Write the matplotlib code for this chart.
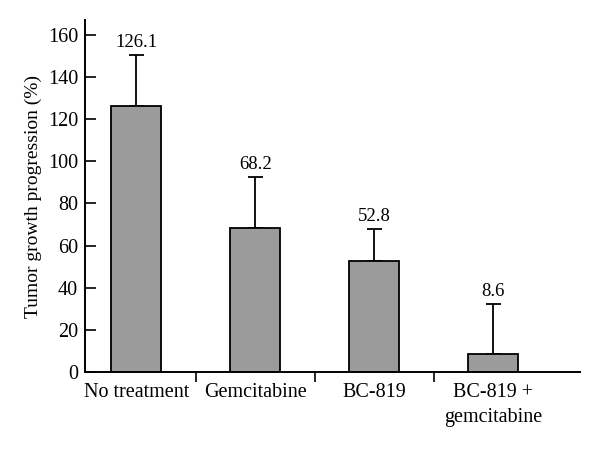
import numpy as np
import matplotlib
matplotlib.use('Agg')
import matplotlib.pyplot as plt

categories = ['No treatment', 'Gemcitabine', 'BC-819', 'BC-819 +\ngemcitabine']
values = [126.1, 68.2, 52.8, 8.6]
errors = [24.3, 24.4, 14.9, 23.8]
yticks = [0, 20, 40, 60, 80, 100, 120, 140, 160]

plt.rcParams['font.family'] = ['Liberation Serif', 'DejaVu Serif']

fig = plt.figure(figsize=(6, 4.5), dpi=100)
ax = fig.add_axes([85 / 600, 78 / 450, 495 / 600, 352 / 450])

x = np.arange(len(categories))
ax.bar(x, values, width=0.42, color='#9b9b9b', edgecolor='black', linewidth=1.3, zorder=2)
ax.errorbar(x, values, yerr=[np.zeros(len(values)), errors], fmt='none', ecolor='black',
            elinewidth=1.3, capsize=5.4, capthick=1.3, zorder=1)

# Value labels above the error caps
for xi, v, e in zip(x, values, errors):
    ax.annotate(str(v), (xi, v + e), xytext=(0, 3), textcoords='offset points',
                ha='center', va='bottom', fontsize=13.5)

ax.set_xlim(-0.43, 3.73)
ax.set_ylim(0, 167)
ax.set_xticks(x)
ax.set_xticklabels(categories, fontsize=14.5, linespacing=1.4)
ax.set_xticks([0.5, 1.5, 2.5], minor=True)
ax.tick_params(axis='x', which='major', length=0, pad=8)
ax.tick_params(axis='x', which='minor', direction='out', length=7.5, width=1.2)
ax.set_yticks(yticks)
ax.tick_params(axis='y', direction='in', length=8, width=1.2, labelsize=14.5, pad=5)
ax.set_ylabel('Tumor growth progression (%)', fontsize=14, labelpad=4)

for side in ['top', 'right']:
    ax.spines[side].set_visible(False)
for side in ['left', 'bottom']:
    ax.spines[side].set_linewidth(1.4)

plt.savefig('out.png', dpi=100)
